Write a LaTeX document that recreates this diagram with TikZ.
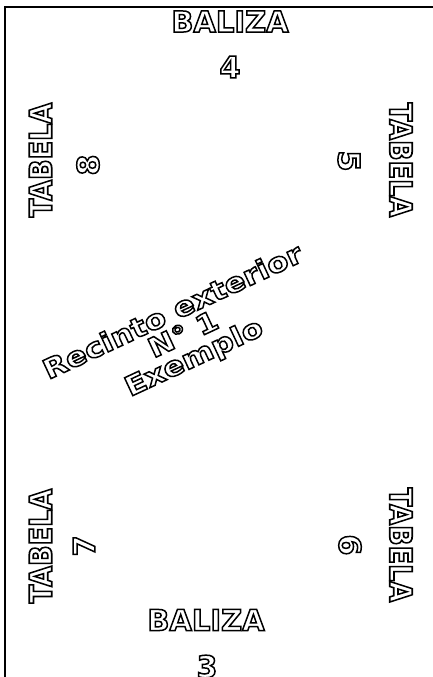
\documentclass[tikz,border=0pt]{standalone}
\usepackage{fontspec}
\setmainfont{DejaVu Sans}
\newfontfamily\widebold[FakeStretch=1.15]{DejaVu Sans Bold}
\tikzset{
  hollow/.style={inner sep=0pt, text=black,
    execute at begin node={\special{pdf:literal direct 1 Tr 1.5 w}},
    execute at end node={\special{pdf:literal direct 0 Tr}}},
  baliza/.style={hollow, font=\bfseries\fontsize{29}{29}\selectfont},
  tabela/.style={hollow, font=\bfseries\fontsize{27}{27}\selectfont},
  digit/.style={hollow, font=\bfseries\fontsize{30}{30}\selectfont},
  midtext/.style={hollow, align=center, rotate=25, font=\widebold\fontsize{27}{25}\selectfont},
  frameline/.style={line width=2pt, black},
}
\begin{document}
\begin{tikzpicture}
\useasboundingbox (0,0) rectangle (433pt,677pt);
\clip (0,0) rectangle (433pt,677pt);
\fill[white] (0,0) rectangle (433pt,677pt);
\draw[frameline] (5pt,-2pt) -- (5pt,670pt) -- (440pt,670pt);
\node[baliza] (baltop) at (230pt,655.5pt) {BALIZA};
\node[digit] (n4) at (230pt,610pt) {4};
\node[baliza] (balbot) at (206pt,57pt) {BALIZA};
\node[digit] (n3) at (207pt,10.5pt) {3};
\node[tabela,rotate=90,yscale=1.15] (tab8) at (40.5pt,517pt) {TABELA};
\node[digit,rotate=90] (n8) at (88pt,512pt) {8};
\node[tabela,rotate=-90,yscale=1.15] (tab5) at (401pt,517pt) {TABELA};
\node[digit,rotate=-90] (n5) at (349pt,516pt) {5};
\node[tabela,rotate=90,yscale=1.15] (tab7) at (40.5pt,131pt) {TABELA};
\node[digit,rotate=90] (n7) at (84pt,131pt) {7};
\node[tabela,rotate=-90,yscale=1.15] (tab6) at (401pt,132pt) {TABELA};
\node[digit,rotate=-90] (n6) at (350pt,132pt) {6};
\node[midtext] (mid) at (184pt,341pt) {Recinto exterior\\N° 1\\Exemplo};
\end{tikzpicture}
\end{document}
